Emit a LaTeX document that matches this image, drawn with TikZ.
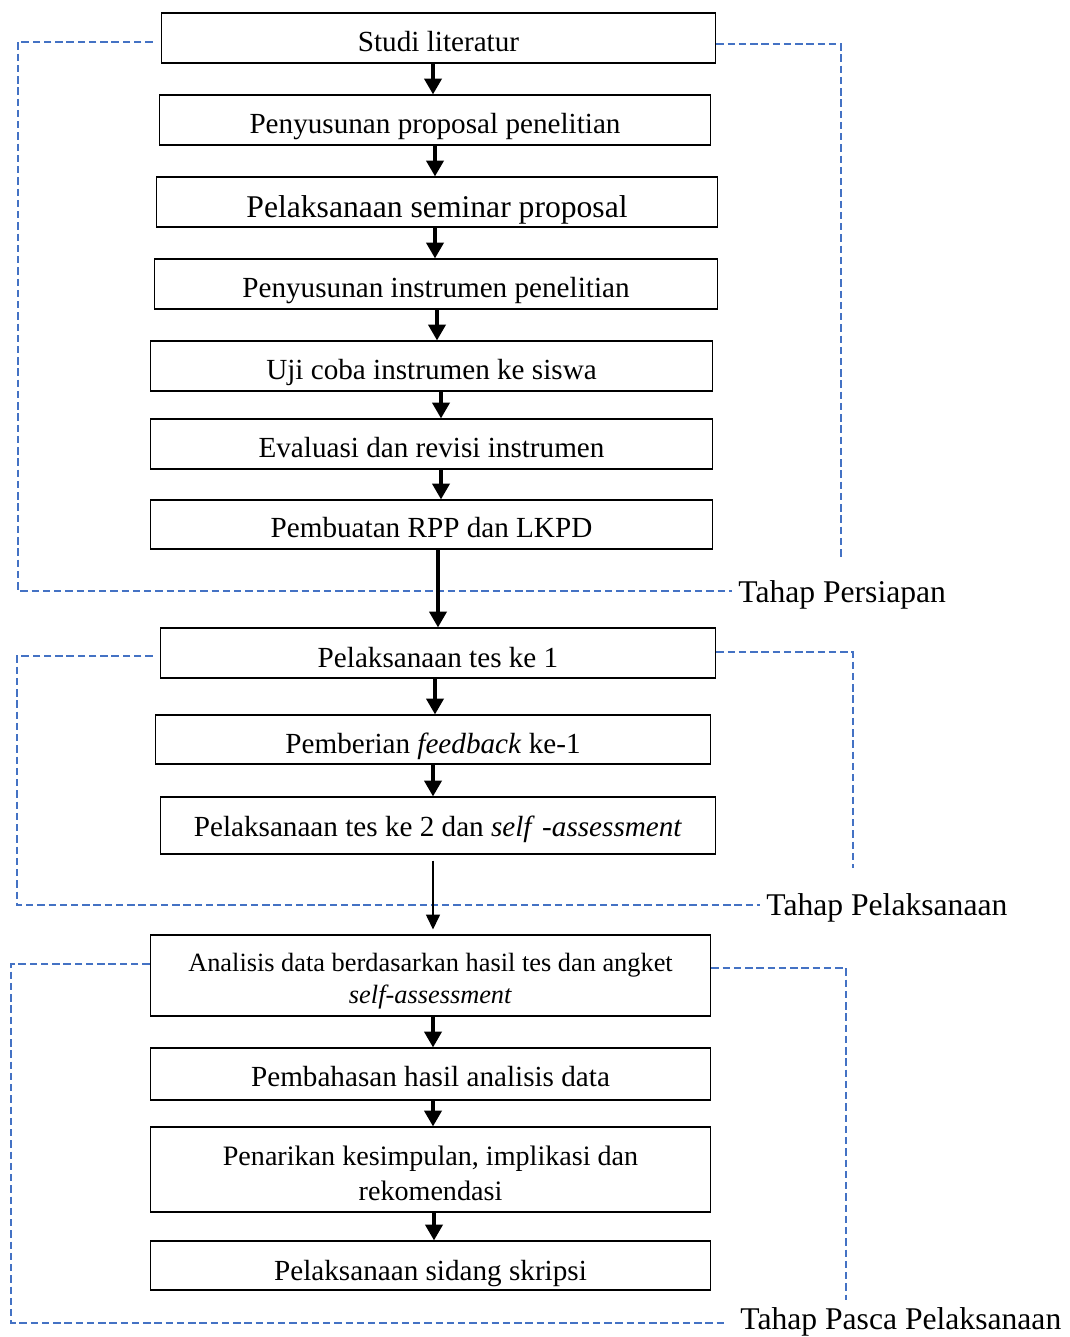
\documentclass[tikz,border=0pt]{standalone}
\usepackage{fontspec}
\setmainfont{Liberation Serif}
\usetikzlibrary{arrows.meta}
\definecolor{phaseblue}{HTML}{4472C4}
\tikzset{
	stepframe/.style={draw, line width=0.6pt, inner sep=0pt, font=\fontsize{16.6}{20}\selectfont},
	stepbox/.style={stepframe, text height=0.78cm, text depth=0.22cm},
	bigflow/.style={line width=2.8pt, -{Triangle[width=9.6pt,length=9pt]}},
	thinflow/.style={line width=0.7pt, -{Triangle[width=8pt,length=8.5pt]}},
	phase/.style={draw=phaseblue, line width=0.6pt, dash pattern=on 4.2pt off 2.2pt},
	phaselabel/.style={anchor=base west, inner sep=0pt, font=\fontsize{18}{22}\selectfont}
}
\begin{document}
\begin{tikzpicture}[x=0.02cm, y=-0.02cm]
				\useasboundingbox (0,0) rectangle (1069,1337);
				\node[stepbox, minimum width=11.1cm] (s1) at (438.5,38) {Studi literatur};
				\node[stepbox, minimum width=11.04cm] (s2) at (435,120) {Penyusunan proposal penelitian};
				\node[stepbox, minimum width=11.24cm, font=\fontsize{18}{22}\selectfont, text height=0.82cm, text depth=0.18cm] (s3) at (437,202) {Pelaksanaan seminar proposal};
				\node[stepbox, minimum width=11.28cm] (s4) at (436,284) {Penyusunan instrumen penelitian};
				\node[stepbox, minimum width=11.26cm] (s5) at (431.5,366) {Uji coba instrumen ke siswa};
				\node[stepbox, minimum width=11.26cm] (s6) at (431.5,444) {Evaluasi dan revisi instrumen};
				\node[stepbox, minimum width=11.26cm, text height=0.76cm] (s7) at (431.5,524.5) {Pembuatan RPP dan LKPD};
				\node[stepbox, minimum width=11.12cm] (s8) at (438,653) {Pelaksanaan tes ke 1};
				\node[stepbox, minimum width=11.12cm, text height=0.76cm] (s9) at (433,739.5) {Pemberian \textit{feedback} ke-1};
				\node[stepbox, minimum width=11.12cm, text height=0.78cm, text depth=0.36cm] (s10) at (438,825.5) {Pelaksanaan tes ke 2 dan \textit{self} \textit{-assessment}};
				\node[stepframe, align=center, minimum width=11.22cm, minimum height=1.62cm, font=\fontsize{15}{18.5}\selectfont] (s11) at (430.5,975.5) {\rule{0pt}{17pt}Analisis data berdasarkan hasil tes dan angket\\\textit{self-assessment}};
				\node[stepbox, minimum width=11.22cm, text height=0.76cm, text depth=0.28cm] (s12) at (430.5,1074) {Pembahasan hasil analisis data};
				\node[stepframe, align=center, minimum width=11.22cm, minimum height=1.7cm, font=\fontsize{16}{20.4}\selectfont] (s13) at (430.5,1169.5) {\rule{0pt}{15.5pt}Penarikan kesimpulan, implikasi dan\\rekomendasi};
				\node[stepbox, minimum width=11.22cm, text height=0.78cm, text depth=0.2cm] (s14) at (430.5,1265.5) {Pelaksanaan sidang skripsi};
				\coordinate (pl1) at (18,591);
				\coordinate (pr1) at (841,560);
				\coordinate (pl2) at (17,905);
				\coordinate (pr2) at (853,868);
				\coordinate (pl3) at (11,1323);
				\coordinate (pr3) at (846,1300);
				\node[phaselabel] (lp1) at (738,602) {Tahap Persiapan};
				\node[phaselabel] (lp2) at (766,915) {Tahap Pelaksanaan};
				\node[phaselabel] (lp3) at (740,1329) {Tahap Pasca Pelaksanaan};
				\draw[phase, shorten <=0.16cm, shorten >=0.12cm] (s1.west |- 0,42) -| (pl1) -- (pl1 -| lp1.west);
				\draw[phase] (s1.east |- 0,44) -| (pr1);
				\draw[phase, shorten <=0.14cm, shorten >=0.12cm] (s8.west |- 0,656) -| (pl2) -- (pl2 -| lp2.west);
				\draw[phase] (s8.east |- 0,652) -| (pr2);
				\draw[phase, shorten >=0.3cm] (s11.west |- 0,964) -| (pl3) -- (pl3 -| lp3.west);
				\draw[phase] (s11.east |- 0,968) -| (pr3);
				\path[bigflow]
				(s1.south -| 433,0) edge (s2.north -| 433,0)
				(s2.south -| 435,0) edge (s3.north -| 435,0)
				(s3.south -| 435,0) edge (s4.north -| 435,0)
				(s4.south -| 437,0) edge (s5.north -| 437,0)
				(s5.south -| 441,0) edge (s6.north -| 441,0)
				(s6.south -| 441,0) edge (s7.north -| 441,0)
				(s7.south -| 438,0) edge[line width=2.4pt] (s8.north -| 438,0)
				(s8.south -| 435,0) edge (s9.north -| 435,0)
				(s9.south -| 433,0) edge (s10.north -| 433,0)
				(s11.south -| 433,0) edge (s12.north -| 433,0)
				(s12.south -| 433,0) edge (s13.north -| 433,0)
				(s13.south -| 434,0) edge (s14.north -| 434,0);
				\path[thinflow, shorten <=0.12cm, shorten >=0.1cm]
				(s10.south -| 433,0) edge (s11.north -| 433,0);
			\end{tikzpicture}
\end{document}
